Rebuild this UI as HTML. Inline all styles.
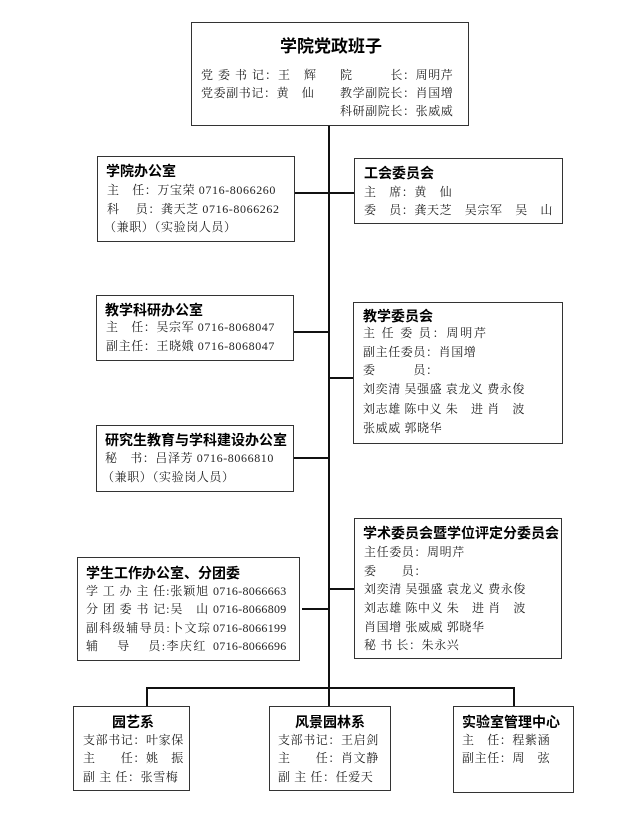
<!DOCTYPE html>
<html><head><meta charset="utf-8"><style>
body{margin:0;background:#fff;}
#c{position:relative;width:633px;height:819px;overflow:hidden;background:#fff;}
.b{position:absolute;border:1.5px solid #333;box-sizing:border-box;background:#fff;}
.l{position:absolute;background:#111;}
.t{position:absolute;white-space:pre;font-family:"Liberation Serif","Noto Serif CJK SC",serif;font-size:12px;line-height:16px;color:#222;letter-spacing:0.6px;}
.h{position:absolute;white-space:pre;font-family:"Liberation Sans","Noto Sans CJK SC",sans-serif;font-weight:bold;font-size:14px;line-height:18px;color:#000;}
</style></head><body><div id="c">
<!-- lines -->
<div class="l" style="left:328px;top:124px;width:1.5px;height:564px"></div>
<div class="l" style="left:294px;top:192px;width:60px;height:1.5px"></div>
<div class="l" style="left:293px;top:331px;width:36px;height:1.5px"></div>
<div class="l" style="left:329px;top:377px;width:25px;height:1.5px"></div>
<div class="l" style="left:293px;top:457px;width:36px;height:1.5px"></div>
<div class="l" style="left:329px;top:588px;width:25px;height:1.5px"></div>
<div class="l" style="left:302px;top:608px;width:27px;height:1.5px"></div>
<div class="l" style="left:146px;top:687px;width:369px;height:1.5px"></div>
<div class="l" style="left:146px;top:687px;width:1.5px;height:20px"></div>
<div class="l" style="left:513px;top:687px;width:1.5px;height:20px"></div>
<div class="l" style="left:328px;top:687px;width:1.5px;height:20px"></div>

<!-- top -->
<div class="b" style="left:191px;top:22px;width:278px;height:104px"></div>
<div class="h" style="left:280px;top:37px;font-size:17px;line-height:20px">学院党政班子</div>
<div class="t" style="left:201px;top:67px;letter-spacing:1px">党 委 书 记：王　辉</div>
<div class="t" style="left:201px;top:85px">党委副书记：黄　仙</div>
<div class="t" style="left:340px;top:67px">院　　　长：周明芹</div>
<div class="t" style="left:340px;top:85px">教学副院长：肖国增</div>
<div class="t" style="left:340px;top:103px">科研副院长：张威威</div>

<!-- 学院办公室 -->
<div class="b" style="left:97px;top:156px;width:198px;height:86px"></div>
<div class="h" style="left:106px;top:162px">学院办公室</div>
<div class="t" style="left:107px;top:182px">主　任：万宝荣 0716-8066260</div>
<div class="t" style="left:107px;top:201px">科　 员：龚天芝 0716-8066262</div>
<div class="t" style="left:104px;top:219px">（兼职）（实验岗人员）</div>

<!-- 工会 -->
<div class="b" style="left:354px;top:158px;width:209px;height:66px"></div>
<div class="h" style="left:364px;top:164px">工会委员会</div>
<div class="t" style="left:364px;top:184px">主　席：黄　仙</div>
<div class="t" style="left:364px;top:202px">委　员：龚天芝　吴宗军　吴　山</div>

<!-- 教学科研 -->
<div class="b" style="left:96px;top:295px;width:198px;height:66px"></div>
<div class="h" style="left:105px;top:301px">教学科研办公室</div>
<div class="t" style="left:106px;top:319px">主　任：吴宗军 0716-8068047</div>
<div class="t" style="left:106px;top:338px">副主任：王晓娥 0716-8068047</div>

<!-- 教学委员会 -->
<div class="b" style="left:353px;top:302px;width:210px;height:142px"></div>
<div class="h" style="left:363px;top:307px">教学委员会</div>
<div class="t" style="left:363px;top:325px;letter-spacing:1.8px">主 任 委 员：周明芹</div>
<div class="t" style="left:363px;top:344px">副主任委员：肖国增</div>
<div class="t" style="left:363px;top:362px">委　　　员：</div>
<div class="t" style="left:363px;top:381px">刘奕清 吴强盛 袁龙义 费永俊</div>
<div class="t" style="left:363px;top:401px">刘志雄 陈中义 朱　进 肖　波</div>
<div class="t" style="left:363px;top:420px">张威威 郭晓华</div>

<!-- 研究生 -->
<div class="b" style="left:96px;top:425px;width:198px;height:67px"></div>
<div class="h" style="left:105px;top:431px">研究生教育与学科建设办公室</div>
<div class="t" style="left:105px;top:450px">秘　书：吕泽芳 0716-8066810</div>
<div class="t" style="left:102px;top:469px">（兼职）（实验岗人员）</div>

<!-- 学术 -->
<div class="b" style="left:354px;top:518px;width:208px;height:141px"></div>
<div class="h" style="left:363px;top:524px">学术委员会暨学位评定分委员会</div>
<div class="t" style="left:364px;top:544px">主任委员：周明芹</div>
<div class="t" style="left:364px;top:563px">委　　员：</div>
<div class="t" style="left:364px;top:581px">刘奕清 吴强盛 袁龙义 费永俊</div>
<div class="t" style="left:364px;top:600px">刘志雄 陈中义 朱　进 肖　波</div>
<div class="t" style="left:364px;top:619px">肖国增 张威威 郭晓华</div>
<div class="t" style="left:364px;top:637px">秘 书 长：朱永兴</div>

<!-- 学生工作 -->
<div class="b" style="left:77px;top:557px;width:223px;height:104px"></div>
<div class="h" style="left:86px;top:564px">学生工作办公室、分团委</div>
<div class="t" style="left:86px;top:583px;letter-spacing:0.9px">学 工 办 主 任:张颖旭</div>
<div class="t" style="left:86px;top:601px;letter-spacing:0.9px">分 团 委 书 记:吴　山</div>
<div class="t" style="left:86px;top:620px;letter-spacing:1.4px">副科级辅导员:卜文琮</div>
<div class="t" style="left:86px;top:638px;letter-spacing:1.4px">辅　 导　 员:李庆红</div>
<div class="t" style="left:213px;top:583px;letter-spacing:0.3px">0716-8066663</div>
<div class="t" style="left:213px;top:601px;letter-spacing:0.3px">0716-8066809</div>
<div class="t" style="left:213px;top:620px;letter-spacing:0.3px">0716-8066199</div>
<div class="t" style="left:213px;top:638px;letter-spacing:0.3px">0716-8066696</div>

<!-- bottom -->
<div class="b" style="left:73px;top:706px;width:117px;height:85px"></div>
<div class="h" style="left:112px;top:713px">园艺系</div>
<div class="t" style="left:83px;top:732px">支部书记：叶家保</div>
<div class="t" style="left:83px;top:750px">主　　任：姚　振</div>
<div class="t" style="left:83px;top:769px">副 主 任：张雪梅</div>

<div class="b" style="left:269px;top:706px;width:122px;height:85px"></div>
<div class="h" style="left:295px;top:713px">风景园林系</div>
<div class="t" style="left:278px;top:732px">支部书记：王启剑</div>
<div class="t" style="left:278px;top:750px">主　　任：肖文静</div>
<div class="t" style="left:278px;top:769px">副 主 任：任爱天</div>

<div class="b" style="left:453px;top:706px;width:121px;height:87px"></div>
<div class="h" style="left:462px;top:713px">实验室管理中心</div>
<div class="t" style="left:462px;top:732px">主　任：程紫涵</div>
<div class="t" style="left:462px;top:750px">副主任：周　弦</div>
</div></body></html>
